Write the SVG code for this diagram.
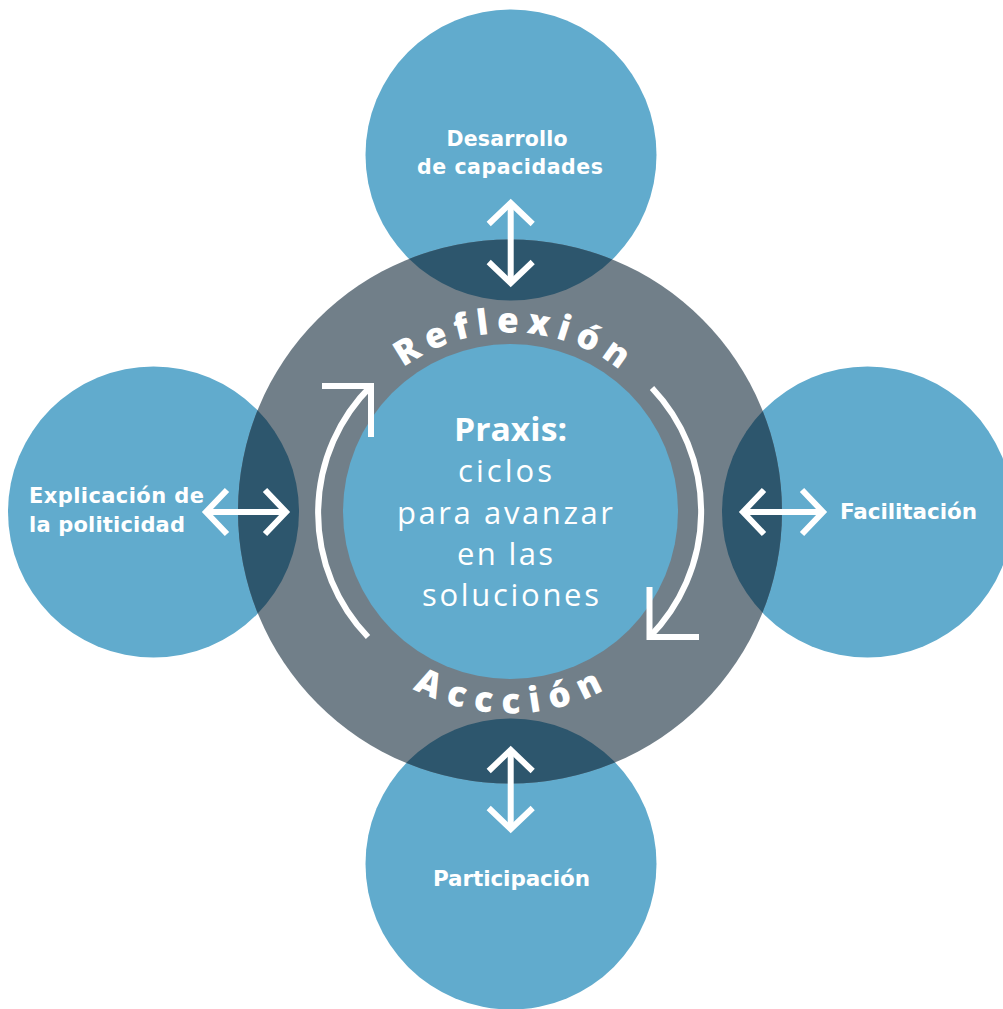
<svg xmlns="http://www.w3.org/2000/svg" xmlns:xlink="http://www.w3.org/1999/xlink" width="1003" height="1009" viewBox="0 0 1003 1009">
  <style>
    .blue { fill: #61abcd; }
    .ring { fill: #717f89; }
    .dark { fill: #2d566d; }
    .label { font-family: "DejaVu Sans", "Open Sans", sans-serif; font-weight: 700; fill: #ffffff; }
    .core { font-family: "Open Sans", "Liberation Sans", sans-serif; fill: #ffffff; }
    .arc-text { font-family: "Open Sans", "Liberation Sans", sans-serif; font-weight: 800; font-size: 35px; fill: #ffffff; }
    .cycle { fill: none; stroke: #ffffff; stroke-width: 6; stroke-linecap: butt; stroke-linejoin: miter; }
    .link { fill: none; stroke: #ffffff; stroke-width: 6; marker-start: url(#chev); marker-end: url(#chev); }
  </style>
  <defs>
    <clipPath id="ring-clip">
      <circle cx="510" cy="511.5" r="272"/>
    </clipPath>
    <!-- baselines for the curved ring words -->
    <path id="arc-top" d="M 331,511.5 A 179,179 0 0 1 689,511.5"/>
    <path id="arc-bottom" d="M 308,511.5 A 202,202 0 0 0 712,511.5"/>
    <marker id="chev" markerUnits="userSpaceOnUse" viewBox="-30 -30 40 60" markerWidth="40" markerHeight="60" refX="0" refY="0" orient="auto-start-reverse" overflow="visible">
      <path d="M -21,-22 L 0,0 L -21,22" fill="none" stroke="#ffffff" stroke-width="6" stroke-linejoin="miter"/>
    </marker>
  </defs>

  <!-- outer circles -->
  <g id="node-desarrollo">
    <circle class="blue" cx="511" cy="155" r="145.5"/>
  </g>
  <g id="node-explicacion">
    <circle class="blue" cx="153.5" cy="512" r="145.5"/>
  </g>
  <g id="node-facilitacion">
    <circle class="blue" cx="867.5" cy="512" r="145.5"/>
  </g>
  <g id="node-participacion">
    <circle class="blue" cx="511" cy="864" r="145.5"/>
  </g>

  <!-- reflection / action ring -->
  <g id="node-ring">
    <circle class="ring" cx="510" cy="511.5" r="272"/>
    <g clip-path="url(#ring-clip)">
      <circle class="dark" cx="511" cy="155" r="145.5"/>
      <circle class="dark" cx="153.5" cy="512" r="145.5"/>
      <circle class="dark" cx="867.5" cy="512" r="145.5"/>
      <circle class="dark" cx="511" cy="864" r="145.5"/>
    </g>
    <text class="arc-text" letter-spacing="7.5"><textPath xlink:href="#arc-top" href="#arc-top" startOffset="51%" text-anchor="middle">Reflexión</textPath></text>
    <text class="arc-text" letter-spacing="10"><textPath xlink:href="#arc-bottom" href="#arc-bottom" startOffset="50.5%" text-anchor="middle">Accción</textPath></text>
  </g>

  <!-- praxis core -->
  <g id="node-praxis">
    <circle class="blue" cx="510.5" cy="511.5" r="167.5"/>
    <text class="core" x="510.5" y="441" font-size="32" font-weight="700" text-anchor="middle" textLength="113" lengthAdjust="spacingAndGlyphs">Praxis:</text>
    <text class="core" x="505" y="482" font-size="31" font-weight="400" text-anchor="middle" textLength="94">ciclos</text>
    <text class="core" x="505" y="523.5" font-size="31" font-weight="400" text-anchor="middle" textLength="216">para avanzar</text>
    <text class="core" x="505" y="565" font-size="31" font-weight="400" text-anchor="middle" textLength="96">en las</text>
    <text class="core" x="510.5" y="606" font-size="31" font-weight="400" text-anchor="middle" textLength="177">soluciones</text>
  </g>

  <!-- cycle arrows -->
  <g id="cycle-arrows">
    <path class="cycle" d="M 368,637 A 179,179 0 0 1 371,386"/>
    <path class="cycle" d="M 322,386 H 371 V 437"/>
    <path class="cycle" d="M 652,388 A 179,179 0 0 1 649.5,637"/>
    <path class="cycle" d="M 649.5,587 V 637 H 699"/>
  </g>

  <!-- connectors -->
  <g id="connectors">
    <line class="link" x1="510.7" y1="203" x2="510.7" y2="283"/>
    <line class="link" x1="510.7" y1="750" x2="510.7" y2="829"/>
    <line class="link" x1="206" y1="512" x2="286" y2="512"/>
    <line class="link" x1="743" y1="512" x2="823" y2="512"/>
  </g>

  <!-- labels -->
  <g id="labels">
    <text class="label" x="507" y="146" font-size="20.5" text-anchor="middle" textLength="121">Desarrollo</text>
    <text class="label" x="510" y="174" font-size="20.5" text-anchor="middle" textLength="186">de capacidades</text>
    <text class="label" x="29" y="503" font-size="21" textLength="175">Explicación de</text>
    <text class="label" x="29" y="532" font-size="21" textLength="156">la politicidad</text>
    <text class="label" x="840" y="519" font-size="21.5" textLength="137">Facilitación</text>
    <text class="label" x="433" y="886" font-size="21.5" textLength="157">Participación</text>
  </g>
</svg>
